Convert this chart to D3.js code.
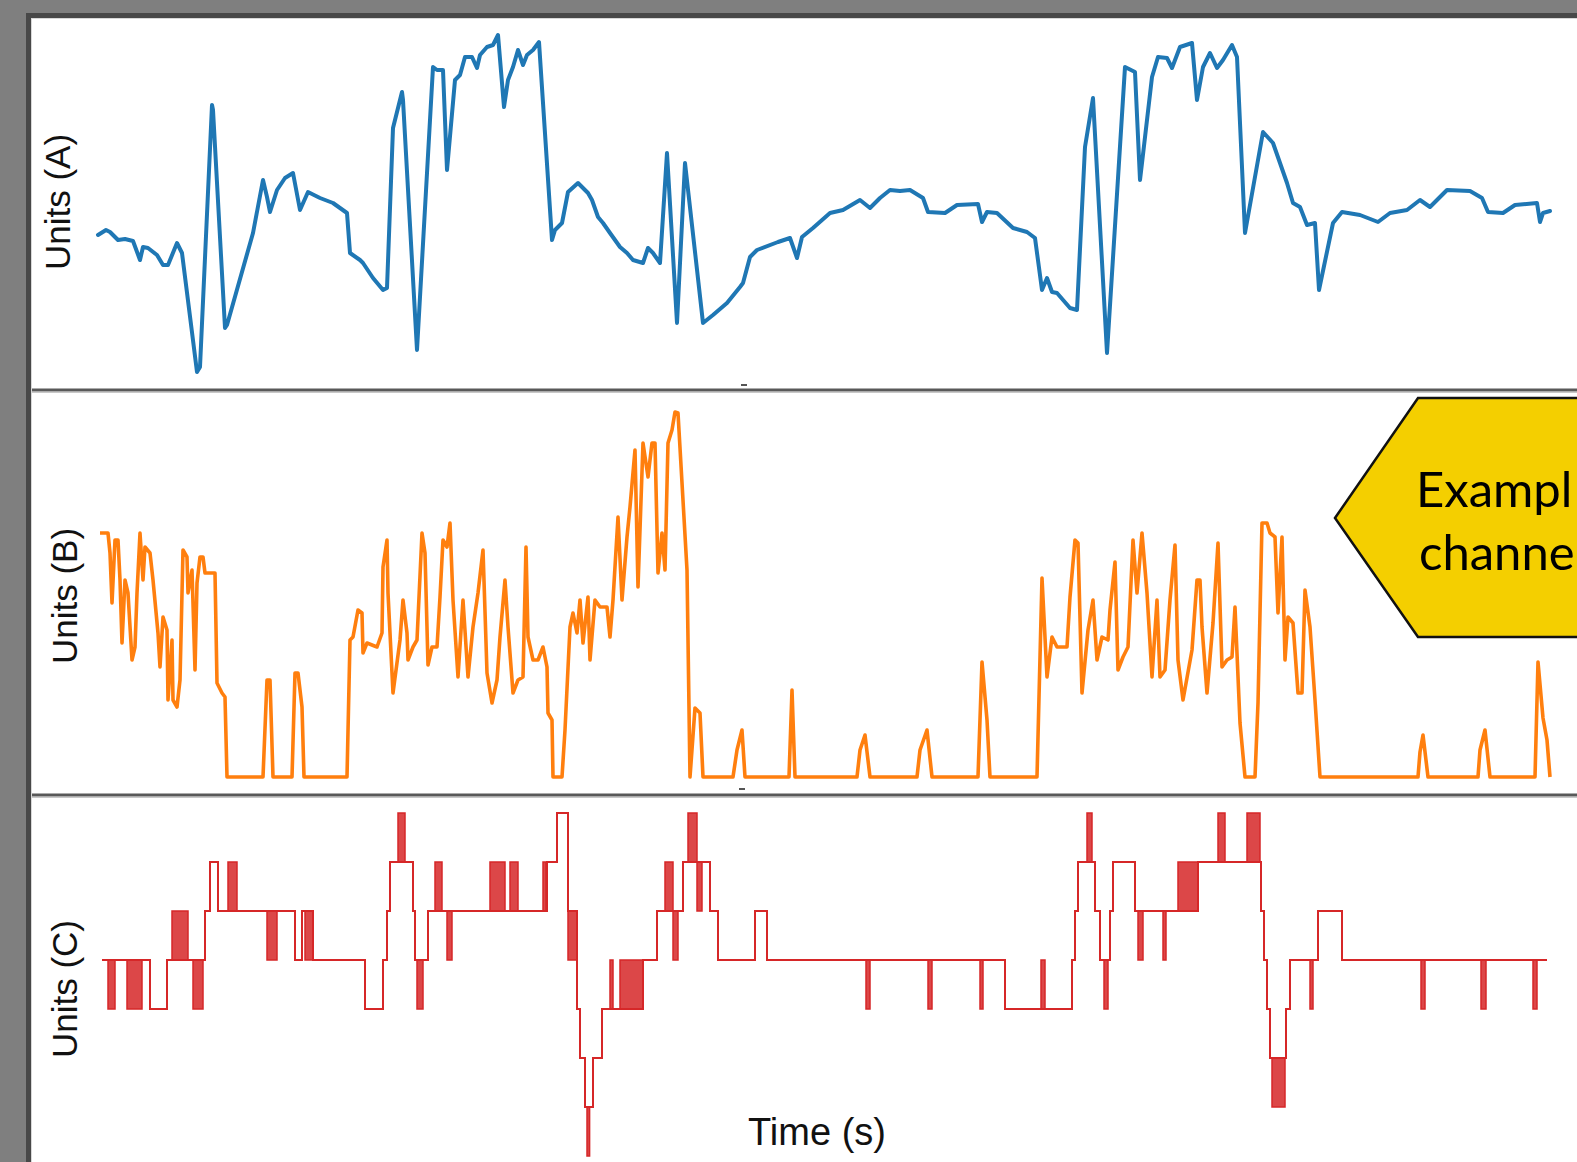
<!DOCTYPE html>
<html>
<head>
<meta charset="utf-8">
<script src="https://cdn.jsdelivr.net/npm/d3@7"></script>
<style>
  html, body { margin: 0; padding: 0; background: #7f7f7f; overflow: hidden; }
  svg { display: block; }
</style>
</head>
<body>
<svg id="chart" width="1577" height="1162"></svg>
<script>
// ---- Data -------------------------------------------------------------
// Channel A: continuous signal, [time (s), units]
const seriesA = [
  [0,-0.5],[0.4,0],[0.6,-0.2],[1.0,-1.0],[1.35,-0.9],[1.75,-1.1],[2.1,-3.0],[2.25,-1.7],
  [2.5,-1.8],[2.95,-2.5],[3.25,-3.5],[3.5,-3.5],[3.95,-1.3],[4.2,-2.3],[4.95,-14.2],[5.1,-13.7],
  [5.7,12.5],[5.75,12.0],[6.35,-9.8],[6.45,-9.5],[7.75,-0.3],[8.25,5.0],[8.45,3.3],[8.6,1.8],
  [8.95,4.0],[9.35,5.2],[9.75,5.7],[10.1,2.0],[10.5,3.8],[11.1,3.2],[11.75,2.7],[12.45,1.7],
  [12.6,-2.3],[13.1,-3.0],[13.25,-3.3],[13.75,-4.8],[14.25,-6.0],[14.45,-5.8],[14.75,10.2],
  [15.2,13.8],[15.25,13.0],[15.95,-12.0],[16.75,16.3],[16.95,16.0],[17.25,16.0],[17.45,6.0],
  [17.85,15.0],[18.1,15.5],[18.35,17.3],[18.7,17.3],[18.95,16.2],[19.1,17.5],[19.45,18.3],
  [19.75,18.5],[20.0,19.5],[20.3,12.3],[20.5,15.0],[20.75,16.3],[21.0,18.0],[21.25,16.5],
  [21.45,17.5],[21.75,18.0],[22.05,18.8],[22.7,-1.0],[22.85,0],[23.2,0.7],[23.5,3.8],[24.0,4.7],
  [24.5,3.7],[24.7,3.0],[25.0,1.3],[25.25,0.7],[25.6,-0.3],[26.1,-1.7],[26.45,-2.3],[26.75,-3.0],
  [27.25,-3.3],[27.5,-1.8],[27.75,-2.3],[28.1,-3.3],[28.45,7.7],[28.95,-9.3],[29.35,6.7],
  [30.25,-9.3],[30.75,-8.5],[31.45,-7.3],[32.1,-5.7],[32.25,-5.3],[32.6,-2.7],[32.95,-2.0],
  [34.0,-1.2],[34.6,-0.8],[34.95,-2.8],[35.2,-0.7],[35.75,0.2],[36.6,1.7],[37.25,2.0],[38.1,3.0],
  [38.6,2.2],[39.1,3.2],[39.6,4.0],[40.1,3.9],[40.6,4.0],[41.25,3.2],[41.5,1.8],[42.35,1.7],
  [42.95,2.5],[44.0,2.6],[44.2,0.8],[44.45,1.8],[44.95,1.7],[45.75,0.2],[46.45,-0.2],[46.85,-0.8],
  [47.2,-6.0],[47.45,-4.8],[47.7,-6.2],[47.95,-6.3],[48.6,-7.8],[48.95,-8.0],[49.35,8.3],
  [49.75,13.2],[50.45,-12.3],[51.35,16.3],[51.85,15.8],[52.1,5.0],[52.2,6.7],[52.7,15.3],
  [53.0,17.3],[53.45,17.2],[53.7,16.2],[54.1,18.3],[54.7,18.7],[54.95,13.0],[55.25,16.3],
  [55.6,17.7],[55.95,16.2],[56.25,17.0],[56.7,18.5],[56.95,17.3],[57.35,-0.3],[58.25,9.8],
  [58.75,8.7],[59.45,4.7],[59.75,2.7],[60.1,2.3],[60.45,0.5],[60.85,0.7],[61.05,-6.0],[61.75,0.7],
  [62.2,1.8],[63.1,1.5],[64.0,0.8],[64.6,1.7],[65.45,2.0],[66.1,3.0],[66.6,2.3],[67.45,4.0],
  [68.6,3.9],[69.2,3.2],[69.5,1.8],[70.25,1.7],[70.85,2.5],[71.95,2.7],[72.1,0.8],[72.25,1.7],
  [72.6,1.9]
];

// Channel B: non-negative bursty signal, [time (s), units]
const seriesB = [
  [0.1,24.4],[0.5,24.4],[0.6,22.4],[0.7,17.4],[0.85,23.7],[1.0,23.7],[1.1,19.7],[1.2,13.4],
  [1.35,19.7],[1.5,18.4],[1.7,11.7],[1.85,13.0],[1.95,18.4],[2.1,24.4],[2.25,19.7],[2.35,23.0],
  [2.6,22.4],[2.75,19.7],[3.0,14.4],[3.1,11.0],[3.25,16.0],[3.45,14.7],[3.5,7.7],[3.7,13.7],
  [3.75,7.7],[3.95,7.0],[4.1,9.7],[4.25,22.7],[4.45,22.0],[4.5,18.4],[4.7,20.7],[4.85,10.7],
  [4.95,19.4],[5.1,22.0],[5.25,22.0],[5.35,20.4],[5.85,20.4],[5.95,9.4],[6.2,8.4],[6.35,8.0],
  [6.45,0],[8.25,0],[8.45,9.7],[8.6,9.7],[8.75,0],[9.7,0],[9.85,10.4],[10.0,10.4],[10.2,7.0],
  [10.3,0],[12.45,0],[12.6,13.7],[12.75,14.0],[13.0,16.7],[13.2,16.4],[13.25,12.4],[13.45,13.4],
  [13.95,13.0],[14.2,14.4],[14.25,21.0],[14.45,23.7],[14.5,18.4],[14.75,8.4],[15.1,13.7],
  [15.25,17.7],[15.45,14.4],[15.5,11.7],[15.75,13.0],[15.95,13.7],[16.2,24.4],[16.35,22.4],
  [16.5,11.2],[16.7,13.0],[16.95,13.0],[17.1,18.0],[17.25,23.7],[17.45,23.0],[17.6,25.4],
  [17.75,17.7],[18.0,10.0],[18.25,17.7],[18.5,10.0],[18.75,15.0],[19.0,18.4],[19.25,22.7],
  [19.45,10.4],[19.7,7.4],[19.95,9.7],[20.1,14.0],[20.35,19.7],[20.5,15.0],[20.75,8.4],
  [21.0,9.7],[21.25,10.0],[21.4,23.0],[21.5,14.0],[21.75,11.7],[22.0,11.7],[22.25,13.0],
  [22.45,11.0],[22.5,6.4],[22.7,5.7],[22.75,0],[23.2,0],[23.35,4.7],[23.6,15.0],[23.75,16.4],
  [23.95,14.4],[24.1,17.7],[24.25,13.4],[24.5,18.0],[24.6,11.7],[24.85,17.7],[25.1,17.0],
  [25.45,17.0],[25.6,14.0],[25.75,17.7],[26.0,26.0],[26.2,17.7],[26.45,24.0],[26.6,27.0],
  [26.85,32.7],[27.0,19.0],[27.25,33.4],[27.5,30.0],[27.7,33.4],[27.85,33.4],[28.0,20.4],
  [28.2,24.4],[28.35,20.7],[28.5,33.4],[28.7,34.7],[28.85,36.5],[29.0,36.4],[29.45,20.7],
  [29.6,0],[29.85,6.9],[30.1,6.4],[30.25,0],[31.75,0],[31.95,2.7],[32.2,4.7],[32.35,0],
  [34.55,0],[34.7,8.7],[34.85,0],[37.95,0],[38.1,2.7],[38.35,4.2],[38.6,0],[40.95,0],
  [41.1,2.7],[41.45,4.7],[41.7,0],[44.0,0],[44.2,11.5],[44.45,5.7],[44.6,0],[46.95,0],
  [47.2,19.9],[47.45,10.0],[47.7,14.0],[47.95,13.0],[48.45,13.0],[48.6,18.0],[48.85,23.7],
  [49.0,23.4],[49.2,8.4],[49.5,14.7],[49.75,17.7],[49.95,11.7],[50.2,14.0],[50.5,13.7],
  [50.6,16.7],[50.85,21.5],[51.0,10.7],[51.25,12.0],[51.5,13.0],[51.75,23.7],[51.95,18.4],
  [52.2,24.4],[52.45,18.4],[52.7,10.0],[52.95,17.7],[53.1,10.0],[53.35,10.7],[53.6,17.7],
  [53.85,23.2],[54.0,11.7],[54.25,7.7],[54.7,12.7],[54.95,19.7],[55.1,19.7],[55.2,15.0],
  [55.45,8.4],[55.75,15.4],[56.0,23.4],[56.2,11.0],[56.45,11.7],[56.7,12.0],[56.85,17.0],
  [57.1,5.4],[57.35,0],[57.85,0],[58.0,7.4],[58.2,25.4],[58.45,25.4],[58.6,24.4],[58.85,24.0],
  [59.0,16.4],[59.2,24.0],[59.35,11.7],[59.5,16.0],[59.75,15.4],[60.0,8.4],[60.2,8.4],
  [60.35,18.7],[60.6,15.0],[60.85,7.7],[61.1,0],[66.0,0],[66.1,2.5],[66.25,4.2],[66.5,0],
  [69.0,0],[69.1,2.7],[69.35,4.7],[69.6,0],[71.85,0],[72.0,11.5],[72.25,5.9],[72.45,3.7],
  [72.6,0]
];

// Channel C: discrete level signal, [time (s), level] (each level holds until the next entry)
const seriesC = [
  [0.2,0],[2.6,-1],[3.45,0],[5.35,1],[5.6,2],[6.0,1],[9.85,0],[10.2,1],[10.75,0],[13.35,-1],
  [14.25,0],[14.45,1],[14.6,2],[15.75,1],[15.85,0],[16.5,1],[22.45,2],[22.95,3],[23.5,1],
  [23.95,-1],[24.1,-2],[24.35,-3],[24.75,-2],[25.2,-1],[27.25,0],[27.95,1],
  [29.25,2],[30.6,1],[31.0,0],[32.85,1],[33.45,0],[45.35,-1],[48.7,0],[48.85,1],[49.0,2],
  [49.85,1],[50.1,0],[50.6,1],[50.75,2],[51.85,1],[55.0,2],[58.15,1],[58.3,0],[58.45,-1],
  [58.6,-2],[59.4,-1],[59.6,0],[61.0,1],[62.2,0],[72.45,0]
];

// Channel C: intervals of rapid switching between two levels, [start, end, low, high]
const burstsC = [
  [0.5,0.85,-1,0],[1.45,2.2,-1,0],[3.7,4.5,0,1],[4.75,5.25,-1,0],[6.5,6.95,1,2],[8.45,8.95,0,1],
  [10.35,10.75,0,1],[15.0,15.35,2,3],[15.95,16.25,-1,0],[16.85,17.2,1,2],[17.45,17.7,0,1],
  [19.6,20.35,1,2],[20.6,21.0,1,2],[22.25,22.4,1,2],[23.5,23.95,0,1],[24.45,24.58,-4,-3],
  [25.6,25.75,-1,0],
  [26.1,27.25,-1,0],[28.35,28.75,1,2],[28.75,29.0,0,1],[29.5,29.95,2,3],[29.95,30.2,1,2],
  [38.4,38.6,-1,0],[41.5,41.7,-1,0],[44.1,44.25,-1,0],[47.15,47.35,-1,0],[49.45,49.7,2,3],
  [50.3,50.5,-1,0],[52.0,52.25,0,1],[53.25,53.4,0,1],[54.0,55.0,1,2],[56.0,56.35,2,3],
  [57.45,58.1,2,3],[58.7,59.35,-3,-2],[60.6,60.75,-1,0],[66.15,66.35,-1,0],[69.15,69.4,-1,0],
  [71.75,71.95,-1,0]
];

const channelLabels = ["Units (A)", "Units (B)", "Units (C)"];
const timeAxisTitle = "Time (s)";
const calloutLines = ["Exampl", "channe"];

// ---- Layout ------------------------------------------------------------
const W = 1577, H = 1162;
const svg = d3.select("#chart");

const x  = d3.scaleLinear().domain([0, 73]).range([98, 1558]);
const yA = d3.scaleLinear().domain([-15, 20]).range([380, 30]);
const yB = d3.scaleLinear().domain([0, 38]).range([777, 397]);
const yC = d3.scaleLinear().domain([-4, 3]).range([1156, 813]);

// window frame
svg.append("rect").attr("width", W).attr("height", H).attr("fill", "#7f7f7f");
svg.append("rect").attr("x", 26).attr("y", 13).attr("width", W).attr("height", H).attr("fill", "#484848");
svg.append("rect").attr("x", 31).attr("y", 18).attr("width", W).attr("height", H).attr("fill", "#d8d8d8");
svg.append("rect").attr("x", 32).attr("y", 19).attr("width", W).attr("height", H).attr("fill", "#ffffff");

// panel dividers
[390, 795].forEach(yy => {
  svg.append("line")
    .attr("x1", 32).attr("x2", W).attr("y1", yy).attr("y2", yy)
    .attr("stroke", "#595959").attr("stroke-width", 3);
  svg.append("line")
    .attr("x1", 32).attr("x2", W).attr("y1", yy + 2.5).attr("y2", yy + 2.5)
    .attr("stroke", "#c8c8c8").attr("stroke-width", 1);
});

// small tick marks on the dividers
[[385, 744], [789, 742]].forEach(([yy, xx]) => {
  svg.append("line")
    .attr("x1", xx - 3).attr("x2", xx + 3).attr("y1", yy).attr("y2", yy)
    .attr("stroke", "#555").attr("stroke-width", 2);
});

// ---- Series ----------------------------------------------------------
const lineA = d3.line().x(d => x(d[0])).y(d => yA(d[1]));
svg.append("path").datum(seriesA)
  .attr("d", lineA).attr("fill", "none")
  .attr("stroke", "#1f77b4").attr("stroke-width", 4)
  .attr("stroke-linejoin", "round").attr("stroke-linecap", "round");

const lineB = d3.line().x(d => x(d[0])).y(d => yB(d[1]));
svg.append("path").datum(seriesB)
  .attr("d", lineB).attr("fill", "none")
  .attr("stroke", "#ff7f0e").attr("stroke-width", 3.6)
  .attr("stroke-linejoin", "round");

svg.append("g").selectAll("rect").data(burstsC).join("rect")
  .attr("x", d => x(d[0]))
  .attr("width", d => Math.max(1, x(d[1]) - x(d[0])))
  .attr("y", d => yC(d[3]))
  .attr("height", d => yC(d[2]) - yC(d[3]))
  .attr("fill", "#d62728").attr("fill-opacity", 0.85)
  .attr("stroke", "#d62728").attr("stroke-width", 1.5);

const lineC = d3.line().x(d => x(d[0])).y(d => yC(d[1])).curve(d3.curveStepAfter);
svg.append("path").datum(seriesC)
  .attr("d", lineC).attr("fill", "none")
  .attr("stroke", "#d62728").attr("stroke-width", 2);

// ---- Labels ------------------------------------------------------------
const labelPos = [[70, 202], [77, 596], [77, 989]];
channelLabels.forEach((lbl, i) => {
  svg.append("text")
    .attr("transform", `translate(${labelPos[i][0]},${labelPos[i][1]}) rotate(-90)`)
    .attr("text-anchor", "middle")
    .attr("font-family", "'Liberation Sans', Arial, sans-serif")
    .attr("font-size", 35).attr("fill", "#111")
    .text(lbl);
});

svg.append("text")
  .attr("x", 817).attr("y", 1145)
  .attr("text-anchor", "middle")
  .attr("font-family", "'Liberation Sans', Arial, sans-serif")
  .attr("font-size", 38).attr("fill", "#111")
  .text(timeAxisTitle);

// ---- Callout -----------------------------------------------------------
const hex = [[1335, 518], [1418, 398], [1720, 398], [1803, 518], [1720, 637], [1418, 637]];
svg.append("polygon")
  .attr("points", hex.map(p => p.join(",")).join(" "))
  .attr("fill", "#f4cf00").attr("stroke", "#111").attr("stroke-width", 2.5);

const calloutPos = [[1416, 507], [1419, 570]];
calloutLines.forEach((t, i) => {
  svg.append("text")
    .attr("x", calloutPos[i][0]).attr("y", calloutPos[i][1])
    .attr("font-family", "Lato, 'Open Sans', sans-serif")
    .attr("font-size", 49).attr("fill", "#000")
    .text(t);
});
</script>
</body>
</html>
